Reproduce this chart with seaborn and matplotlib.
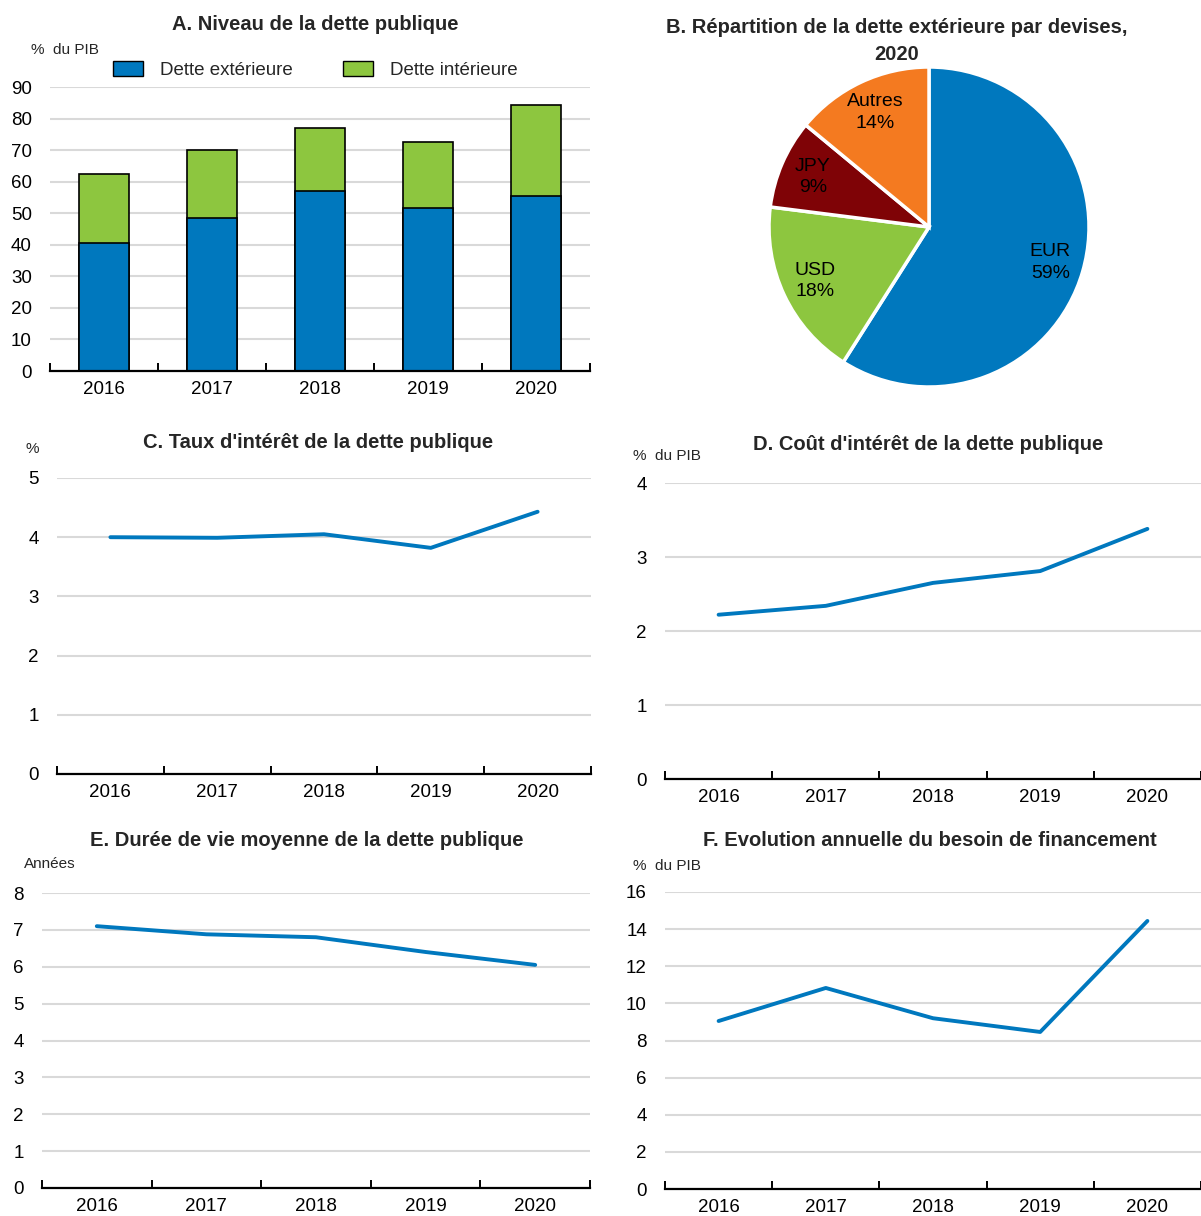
import numpy as np
import pandas as pd
import matplotlib
matplotlib.use("Agg")
import matplotlib.pyplot as plt
from matplotlib.patches import Patch
import seaborn as sns

# ---------------- data ----------------
years = ["2016", "2017", "2018", "2019", "2020"]

dette_exterieure = [40.6, 48.4, 57.1, 51.5, 55.6]
dette_interieure = [21.9, 21.7, 20.0, 21.0, 28.7]

devises = ["EUR", "USD", "JPY", "Autres"]
devises_pct = [59, 18, 9, 14]

taux_interet = [4.00, 3.99, 4.05, 3.82, 4.43]
cout_interet = [2.22, 2.34, 2.65, 2.81, 3.38]
duree_vie = [7.10, 6.88, 6.80, 6.40, 6.05]
besoin_fin = [9.05, 10.83, 9.20, 8.46, 14.44]

# ---------------- style ----------------
sns.set_theme(style="white")
plt.rcParams["font.family"] = ["Liberation Sans", "DejaVu Sans"]

BLUE = "#0078BE"
GREEN = "#8DC63F"
DRED = "#7F0306"
ORANGE = "#F47A20"
GRID = "#D9D9D9"
TICK_FS = 13.5
TITLE_FS = 14.5
UNIT_FS = 11

W, H = 1201, 1216
fig = plt.figure(figsize=(W / 100, H / 100), dpi=100)


def px_axes(x0, x1, ytop, ybot):
    return fig.add_axes([x0 / W, 1 - ybot / H, (x1 - x0) / W, (ybot - ytop) / H])


def style_cat_axis(ax, n, ymax, ystep):
    ax.set_xlim(-0.5, n - 0.5)
    ax.set_ylim(0, ymax)
    ax.set_yticks(np.arange(0, ymax + ystep / 2, ystep))
    ax.yaxis.grid(True, color=GRID, linewidth=1.5)
    ax.xaxis.grid(False)
    ax.set_axisbelow(True)
    for s in ["top", "right", "left"]:
        ax.spines[s].set_visible(False)
    ax.spines["bottom"].set_color("black")
    ax.spines["bottom"].set_linewidth(1.6)
    ax.spines["bottom"].set_zorder(5)
    ax.set_xticks(np.arange(n))
    ax.set_xticklabels(years)
    ax.set_xticks(np.arange(n + 1) - 0.5, minor=True)
    ax.tick_params(axis="x", which="major", bottom=True, length=0, labelsize=TICK_FS,
                   pad=7, colors="black")
    ax.tick_params(axis="x", which="minor", bottom=True, length=6, width=1.4,
                   direction="in", color="black")
    ax.tick_params(axis="y", left=False, length=0, labelsize=TICK_FS, pad=13, colors="black")
    ax.set_xlabel("")
    ax.set_ylabel("")


# ---------------- Panel A ----------------
axA = px_axes(50, 590, 87, 371)
dfA = pd.DataFrame({"annee": years,
                    "ext": dette_exterieure,
                    "tot": np.array(dette_exterieure) + np.array(dette_interieure)})
sns.barplot(data=dfA, x="annee", y="tot", color=GREEN, width=0.46, saturation=1,
            edgecolor="black", linewidth=1.2, ax=axA)
sns.barplot(data=dfA, x="annee", y="ext", color=BLUE, width=0.46, saturation=1,
            edgecolor="black", linewidth=1.2, ax=axA)
style_cat_axis(axA, len(years), 90, 10)
handles = [Patch(facecolor=BLUE, edgecolor="black", label="Dette extérieure"),
           Patch(facecolor=GREEN, edgecolor="black", label="Dette intérieure")]
fig.legend(handles=handles, loc="center left", bbox_to_anchor=(113 / W, 1 - 70 / H),
           ncol=2, frameon=False, fontsize=TICK_FS, handlelength=1.6, handleheight=0.85,
           columnspacing=2.7, handletextpad=0.9, borderpad=0, borderaxespad=0)
fig.text(315 / W, 1 - 25 / H, "A. Niveau de la dette publique", ha="center", va="center",
         fontsize=TITLE_FS, fontweight="bold")
fig.text(31 / W, 1 - 50 / H, "%  du PIB", ha="left", va="center", fontsize=UNIT_FS)

# ---------------- Panel B ----------------
axB = px_axes(929 - 160, 929 + 160, 227 - 160, 227 + 160)
lab_iter = iter([f"{d}\n{p}%" for d, p in zip(devises, devises_pct)])
axB.pie(devises_pct, colors=[BLUE, GREEN, DRED, ORANGE], startangle=90, counterclock=False,
        autopct=lambda pct: next(lab_iter), pctdistance=0.79,
        wedgeprops=dict(edgecolor="white", linewidth=2.5),
        textprops=dict(fontsize=14, color="black", linespacing=1.35))
axB.set_aspect("equal")
axB.set_xlim(-1.0, 1.0)
axB.set_ylim(-1.0, 1.0)
axB.axis("off")
fig.text(897 / W, 1 - 41 / H, "B. Répartition de la dette extérieure par devises,\n2020",
         ha="center", va="center", fontsize=TITLE_FS, fontweight="bold", linespacing=1.5)


# ---------------- line panels ----------------
def line_panel(x0, x1, ytop, ybot, values, ymax, ystep, title, tx, ty, unit, ux, uy):
    ax = px_axes(x0, x1, ytop, ybot)
    df = pd.DataFrame({"pos": np.arange(len(years)), "val": values})
    sns.lineplot(data=df, x="pos", y="val", color=BLUE, linewidth=2.8, ax=ax)
    style_cat_axis(ax, len(years), ymax, ystep)
    fig.text(tx / W, 1 - ty / H, title, ha="center", va="center",
             fontsize=TITLE_FS, fontweight="bold")
    fig.text(ux / W, 1 - uy / H, unit, ha="left", va="center", fontsize=UNIT_FS)
    return ax


line_panel(57, 591, 478, 774, taux_interet, 5, 1,
           "C. Taux d'intérêt de la dette publique", 318, 443, "%", 25, 449)
line_panel(665, 1201, 483, 779, cout_interet, 4, 1,
           "D. Coût d'intérêt de la dette publique", 928, 445, "%  du PIB", 633, 456)
line_panel(42, 590, 893, 1188, duree_vie, 8, 1,
           "E. Durée de vie moyenne de la dette publique", 307, 840, "Années", 24, 864)
line_panel(665, 1201, 892, 1189, besoin_fin, 16, 2,
           "F. Evolution annuelle du besoin de financement", 930, 841, "%  du PIB", 633, 866)

fig.savefig("out.png", dpi=100, facecolor="white")
